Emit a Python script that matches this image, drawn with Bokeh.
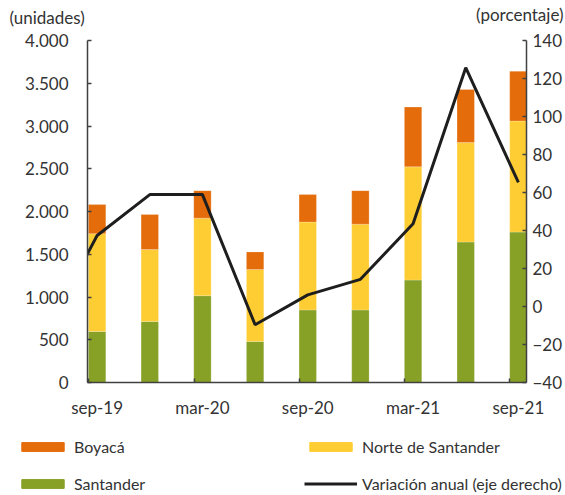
from bokeh.plotting import figure
from bokeh.layouts import column
from bokeh.models import (ColumnDataSource, Range1d, LinearAxis, FixedTicker, Label,
                          Legend, LegendItem)
from bokeh.embed import file_html
from bokeh.resources import INLINE

# ---- data ----
periods = ["sep-19", "dic-19", "mar-20", "jun-20", "sep-20", "dic-20", "mar-21", "jun-21", "sep-21"]
santander = [597, 713, 1015, 480, 849, 849, 1198, 1643, 1759]
norte_santander = [1144, 842, 907, 842, 1027, 1003, 1325, 1163, 1299]
boyaca = [340, 410, 322, 205, 322, 392, 698, 621, 582]
line_periods = ["jun-19"] + periods
variacion_anual = [-15.0, 37.4, 58.9, 58.9, -9.6, 6.1, 14.3, 43.6, 125.7, 65.3]
x_tick_labels = ["sep-19", "mar-20", "sep-20", "mar-21", "sep-21"]
left_ticks = [0, 500, 1000, 1500, 2000, 2500, 3000, 3500, 4000]
right_ticks = [-40, -20, 0, 20, 40, 60, 80, 100, 120, 140]
series_names = ["Boyacá", "Norte de Santander", "Santander", "Variación anual (eje derecho)"]

# ---- style ----
C_BOY = "#E46C0A"
C_NOR = "#FECD33"
C_SAN = "#87A026"
C_LINE = "#1E1E1E"
AX = "#404040"
TXT = "#333333"
FONT = "Lato"
FS = "17px"
FS_LEG = "16px"

W = 565
H_TOP, H_MAIN = 30, 390
H_LEG = 495 - H_TOP - H_MAIN
x_lo, x_hi = -0.183, 8.154


def bare_figure(h):
    f = figure(width=W, height=h, x_range=Range1d(0, W), y_range=Range1d(0, h),
               x_axis_type=None, y_axis_type=None, output_backend="svg",
               toolbar_location=None, min_border=0)
    f.xgrid.visible = False
    f.ygrid.visible = False
    f.outline_line_color = None
    f.frame_align = False
    return f


# ---- header with the two axis units ----
top = bare_figure(H_TOP)
top.add_layout(Label(x=9, y=H_TOP - 17, text="(unidades)", text_baseline="middle",
                     text_align="left", text_font=FONT, text_font_size=FS, text_color=TXT))
top.add_layout(Label(x=W - 2, y=H_TOP - 13.5, text="(porcentaje)", text_baseline="middle",
                     text_align="right", text_font=FONT, text_font_size=FS, text_color=TXT))

# ---- main chart ----
src = ColumnDataSource(dict(x=list(range(len(periods))), santander=santander,
                            norte=norte_santander, boyaca=boyaca))
lsrc = ColumnDataSource(dict(x=[line_periods.index(q) - 1 for q in line_periods], v=variacion_anual))

p = figure(width=W, height=H_MAIN, x_range=Range1d(x_lo, x_hi), y_range=Range1d(0, 4000),
           output_backend="svg", toolbar_location=None,
           min_border_left=87, min_border_right=0, min_border_top=10, min_border_bottom=36)
p.frame_align = False
p.extra_y_ranges = {"pct": Range1d(-40, 140)}
p.xgrid.visible = False
p.ygrid.visible = False
p.outline_line_color = None

p.vbar_stack(["santander", "norte", "boyaca"], x="x", width=0.33, source=src,
             color=[C_SAN, C_NOR, C_BOY], line_color="white", line_alpha=0.35, line_width=0.6)
p.line("x", "v", source=lsrc, y_range_name="pct", color=C_LINE, line_width=3)


def style_axis(a):
    a.axis_line_color = AX
    a.axis_line_width = 1.5
    a.major_tick_line_color = AX
    a.major_tick_line_width = 1.5
    a.major_tick_in = 4
    a.major_tick_out = 0
    a.minor_tick_line_color = None
    a.major_label_text_font = FONT
    a.major_label_text_font_size = FS
    a.major_label_text_color = TXT


ya = p.yaxis[0]
style_axis(ya)
ya.ticker = FixedTicker(ticks=left_ticks)
ya.major_label_overrides = {t: f"{t:,}".replace(",", ".") for t in left_ticks}
ya.major_label_standoff = 19

ra = LinearAxis(y_range_name="pct", ticker=FixedTicker(ticks=right_ticks))
style_axis(ra)
ra.major_label_standoff = 6
p.add_layout(ra, "right")

xa = p.xaxis[0]
style_axis(xa)
xa.ticker = FixedTicker(ticks=[periods.index(l) for l in x_tick_labels],
                        minor_ticks=[periods.index(l) - 0.16 for l in x_tick_labels])
xa.major_label_overrides = {periods.index(l): l for l in x_tick_labels}
xa.major_tick_line_color = None
xa.minor_tick_line_color = AX
xa.minor_tick_line_width = 1.5
xa.minor_tick_in = 4
xa.minor_tick_out = 0
xa.major_label_standoff = 14

# ---- legend strip (legend glyphs taken from hidden copies of the series) ----
leg = bare_figure(H_LEG)
lbars = leg.vbar_stack(["santander", "norte", "boyaca"], x="x", width=0.33, source=src,
                       color=[C_SAN, C_NOR, C_BOY], visible=False)
lline = leg.line("x", "v", source=lsrc, color=C_LINE, line_width=3, visible=False)
legend = Legend(items=[LegendItem(label=n, renderers=[r]) for n, r in
                       zip(series_names, [lbars[2], lbars[1], lbars[0], lline])],
                orientation="horizontal", ncols=2, location=(16, 2))
legend.glyph_width = 53
legend.glyph_height = 11
legend.label_standoff = 5
legend.label_width = 212
legend.label_height = 18
legend.spacing = 18
legend.padding = 0
legend.margin = 0
legend.border_line_color = None
legend.background_fill_alpha = 0
legend.inactive_fill_alpha = 0
legend.label_text_font = FONT
legend.label_text_font_size = FS_LEG
legend.label_text_color = TXT
leg.add_layout(legend)

layout = column(top, p, leg, spacing=0)
open("out.html", "w").write(file_html(layout, INLINE))
